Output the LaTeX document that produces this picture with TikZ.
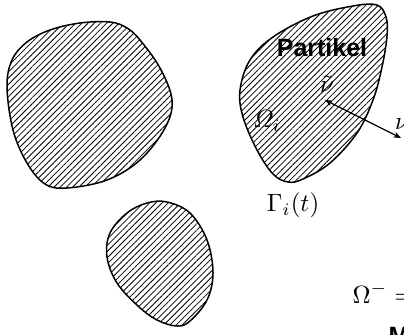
\documentclass[tikz,border=0pt]{standalone}
\usepackage{amsmath}
\usepackage{fontspec}
\newfontfamily\labelsans{Liberation Sans}
\usetikzlibrary{patterns.meta,arrows.meta}
\tikzset{
  blob/.style={draw=black, line width=0.6pt,
    pattern={Lines[angle=45,distance=1.75pt,line width=0.32pt]}},
  normarrow/.style={line width=0.45pt, {Stealth[length=3pt,width=2.4pt]}-{Stealth[length=3pt,width=2.4pt]}},
  lbl/.style={inner sep=0pt}
}
\begin{document}
\begin{tikzpicture}[x=0.4pt,y=-0.4pt]
\useasboundingbox (0,0) rectangle (404,334);
% left large particle
\path[blob] plot[smooth cycle, tension=0.6] coordinates {
 (80,23) (110,22) (127,28) (140,40) (160,68) (172,100) (165,128) (140,160)
 (107,180) (67,188) (45,184) (27,163) (13,130) (7,87) (12,60) (27,42) (50,30)};
% bottom particle
\path[blob] plot[smooth cycle, tension=0.6] coordinates {
 (167,202) (190,213) (207,240) (213,273) (207,300) (190,321) (177,326)
 (157,320) (138,306) (117,283) (107,257) (110,233) (127,213) (147,203)};
% particle i
\path[blob] plot[smooth cycle, tension=0.6] coordinates {
 (377,5) (386,17) (387,36) (382,67) (373,100) (357,133) (330,163) (303,179)
 (288,182) (273,174) (257,150) (243,117) (240,90) (250,60) (273,37) (313,16) (353,6)};
% labels
\node[lbl] (part) at (322,48) {\labelsans\bfseries Partikel};
\node[lbl] (vt) at (327,84) {$\tilde{\nu}$};
\node[lbl] (om) at (267,121) {$\varOmega_i$};
\node[lbl] (nu) at (402,124) {$\nu$};
\coordinate (a1) at (325,100);
\coordinate (a2) at (401,138);
\draw[normarrow] (a1) -- (a2);
\node[lbl] (gam) at (293,205) {$\Gamma_i(t)$};
\node[lbl, anchor=base west] (omm) at (352,303) {$\Omega^- =$};
\node[lbl, anchor=north west] (mm) at (388,327) {\labelsans\bfseries M};
\end{tikzpicture}
\end{document}
